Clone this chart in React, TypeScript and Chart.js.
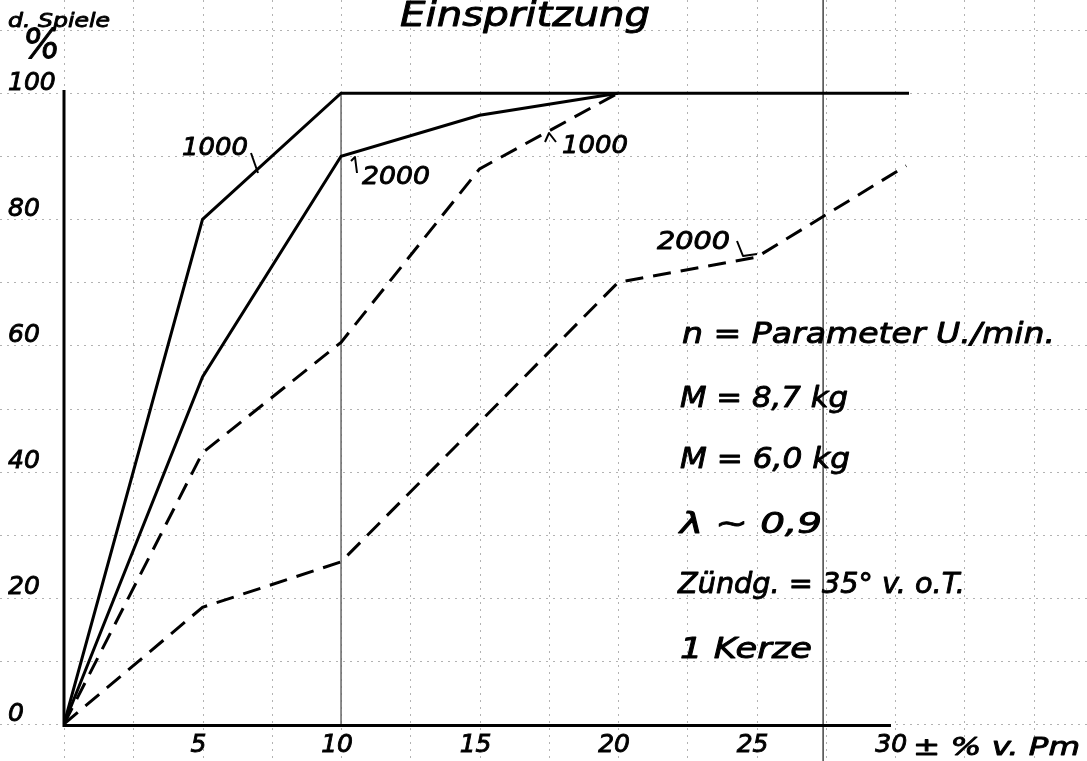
import React, { useEffect, useRef } from "react";
import { Chart, registerables } from "chart.js";

Chart.register(...registerables);

const W = 1087;
const H = 761;

// ---- data ----
const solid1000X = [0, 5, 10, 30.5];
const solid1000Y = [0, 80, 100, 100];
const solid2000X = [0, 5, 10, 15, 20];
const solid2000Y = [0, 55, 90, 96.5, 100];
const dashed1000X = [0, 5, 10, 15, 20];
const dashed1000Y = [0, 43, 60.5, 88, 100];
const dashed2000X = [0, 5, 10, 20, 25, 30.4];
const dashed2000Y = [0, 18.5, 25.7, 70, 74, 88.5];

const xTickValues = [5, 10, 15, 20, 25, 30];
const yTickValues = [0, 20, 40, 60, 80, 100];
const xGridValues = [-2.5, 0, 2.5, 5, 7.5, 10, 12.5, 15, 17.5, 20, 22.5, 25, 27.5, 30, 32.5, 35, 37.5];
const yGridValues = [-10, 0, 10, 20, 30, 40, 50, 60, 70, 80, 90, 100, 110];
const xAxisEnd = 29.85;
const yAxisTop = 100.5;
const refLineInner = 10; // thin vertical line inside plot
const refLineFull = 27.4; // full height vertical line

const FAMILY = '"DejaVu Sans"';

type Txt = { t: string; x: number; b: number; size: number; w: number };
const texts: Txt[] = [
  { t: "d. Spiele", x: 8, b: 27, size: 20, w: 102 },
  { t: "%", x: 23, b: 58, size: 40, w: 37 },
  { t: "Einspritzung", x: 400, b: 26, size: 33, w: 250 },
  { t: "1000", x: 182, b: 155, size: 25, w: 66 },
  { t: "2000", x: 362, b: 184, size: 25, w: 68 },
  { t: "1000", x: 562, b: 153, size: 25, w: 66 },
  { t: "2000", x: 657, b: 249, size: 25, w: 73 },
  { t: "n = Parameter U./min.", x: 682, b: 343, size: 28, w: 373 },
  { t: "M = 8,7 kg", x: 680, b: 407, size: 28, w: 168 },
  { t: "M = 6,0 kg", x: 680, b: 468, size: 28, w: 170 },
  { t: "λ ~ 0,9", x: 680, b: 533, size: 28, w: 142 },
  { t: "Zündg. = 35° v. o.T.", x: 678, b: 593, size: 28, w: 287 },
  { t: "1 Kerze", x: 680, b: 658, size: 28, w: 132 },
  { t: "± % v. Pm", x: 913, b: 755, size: 25, w: 167 },
];

const leaders: number[][][] = [
  [[251, 153], [258, 173]],
  [[351, 161], [355, 157], [357, 173]],
  [[545, 142], [549, 133], [556, 142]],
  [[737, 241], [743, 256], [757, 254]],
];

const zip = (xs: number[], ys: number[]) => xs.map((x, i) => ({ x, y: ys[i] }));

const decor = {
  id: "decor",
  beforeDatasetsDraw(chart: any) {
    const { ctx } = chart;
    const xs = chart.scales.x;
    const ys = chart.scales.y;
    ctx.save();
    // faint dotted graph-paper grid over the whole sheet
    ctx.strokeStyle = "rgba(0,0,0,0.3)";
    ctx.lineWidth = 1;
    ctx.setLineDash([2, 5]);
    xGridValues.forEach((v) => {
      const px = Math.round(xs.getPixelForValue(v)) + 0.5;
      ctx.beginPath();
      ctx.moveTo(px, 0);
      ctx.lineTo(px, H);
      ctx.stroke();
    });
    yGridValues.forEach((v) => {
      const py = Math.round(ys.getPixelForValue(v)) + 0.5;
      ctx.beginPath();
      ctx.moveTo(0, py);
      ctx.lineTo(W, py);
      ctx.stroke();
    });
    ctx.setLineDash([]);
    // thin reference lines
    ctx.strokeStyle = "#666";
    ctx.lineWidth = 1.5;
    let px = xs.getPixelForValue(refLineInner);
    ctx.beginPath();
    ctx.moveTo(px, ys.getPixelForValue(100));
    ctx.lineTo(px, ys.getPixelForValue(0));
    ctx.stroke();
    px = xs.getPixelForValue(refLineFull);
    ctx.strokeStyle = "#444";
    ctx.beginPath();
    ctx.moveTo(px, 0);
    ctx.lineTo(px, H);
    ctx.stroke();
    // axes
    ctx.strokeStyle = "#000";
    ctx.lineWidth = 3;
    const x0 = xs.getPixelForValue(0);
    const y0 = ys.getPixelForValue(0);
    ctx.beginPath();
    ctx.moveTo(x0, ys.getPixelForValue(yAxisTop));
    ctx.lineTo(x0, y0 + 1.5);
    ctx.lineTo(xs.getPixelForValue(xAxisEnd), y0 + 1.5);
    ctx.stroke();
    ctx.restore();
  },
  afterDraw(chart: any) {
    const { ctx } = chart;
    ctx.save();
    ctx.fillStyle = "#000";
    ctx.strokeStyle = "#000";
    ctx.textBaseline = "alphabetic";
    ctx.textAlign = "left";
    ctx.lineJoin = "round";
    texts.forEach((t) => {
      ctx.font = `italic ${t.size}px ${FAMILY}`;
      const m = ctx.measureText(t.t).width;
      ctx.save();
      ctx.translate(t.x, t.b);
      ctx.scale(t.w / m, 1);
      ctx.lineWidth = 0.9;
      ctx.fillText(t.t, 0, 0);
      ctx.strokeText(t.t, 0, 0);
      ctx.restore();
    });
    ctx.lineWidth = 2;
    leaders.forEach((pts) => {
      ctx.beginPath();
      pts.forEach((p, i) => (i === 0 ? ctx.moveTo(p[0], p[1]) : ctx.lineTo(p[0], p[1])));
      ctx.stroke();
    });
    ctx.restore();
  },
};

export default function App() {
  const ref = useRef<HTMLCanvasElement | null>(null);
  useEffect(() => {
    if (!ref.current) return;
    const common = { borderColor: "#000", borderWidth: 3, pointRadius: 0, tension: 0, fill: false };
    const tickFont = { family: "DejaVu Sans", style: "italic" as const, size: 25 };
    const chart = new Chart(ref.current, {
      type: "line",
      data: {
        datasets: [
          { label: "1000", data: zip(solid1000X, solid1000Y), ...common },
          { label: "2000", data: zip(solid2000X, solid2000Y), ...common },
          { label: "1000 dashed", data: zip(dashed1000X, dashed1000Y), ...common, borderDash: [18, 10] },
          { label: "2000 dashed", data: zip(dashed2000X, dashed2000Y), ...common, borderDash: [18, 10] },
        ],
      },
      options: {
        responsive: false,
        animation: false,
        devicePixelRatio: 1,
        layout: { padding: { left: 8, top: 90, right: W - 909, bottom: 0 } },
        plugins: { legend: { display: false }, tooltip: { enabled: false }, title: { display: false } },
        scales: {
          x: {
            type: "linear",
            min: 0,
            max: 30.5,
            grid: { display: false, drawTicks: false },
            border: { display: false },
            afterBuildTicks: (s: any) => {
              s.ticks = xTickValues.map((v) => ({ value: v }));
            },
            afterFit: (s: any) => {
              s.height = H - 724;
            },
            ticks: {
              font: tickFont,
              color: "#000",
              textStrokeColor: "#000",
              textStrokeWidth: 0.9,
              padding: 6,
              labelOffset: -4,
              maxRotation: 0,
              autoSkip: false,
            },
          },
          y: {
            type: "linear",
            min: 0,
            max: yAxisTop,
            grid: { display: false, drawTicks: false },
            border: { display: false },
            afterBuildTicks: (s: any) => {
              s.ticks = yTickValues.map((v) => ({ value: v }));
            },
            afterFit: (s: any) => {
              s.width = 64 - 8;
            },
            ticks: {
              font: tickFont,
              color: "#000",
              textStrokeColor: "#000",
              textStrokeWidth: 0.9,
              padding: 0,
              crossAlign: "far",
              labelOffset: -10,
              autoSkip: false,
            },
          },
        },
      } as any,
      plugins: [decor],
    });
    return () => chart.destroy();
  }, []);
  return (
    <div style={{ position: "absolute", left: 0, top: 0, width: W, height: H, background: "#fff" }}>
      <canvas ref={ref} width={W} height={H} style={{ display: "block", width: W, height: H }} />
    </div>
  );
}
